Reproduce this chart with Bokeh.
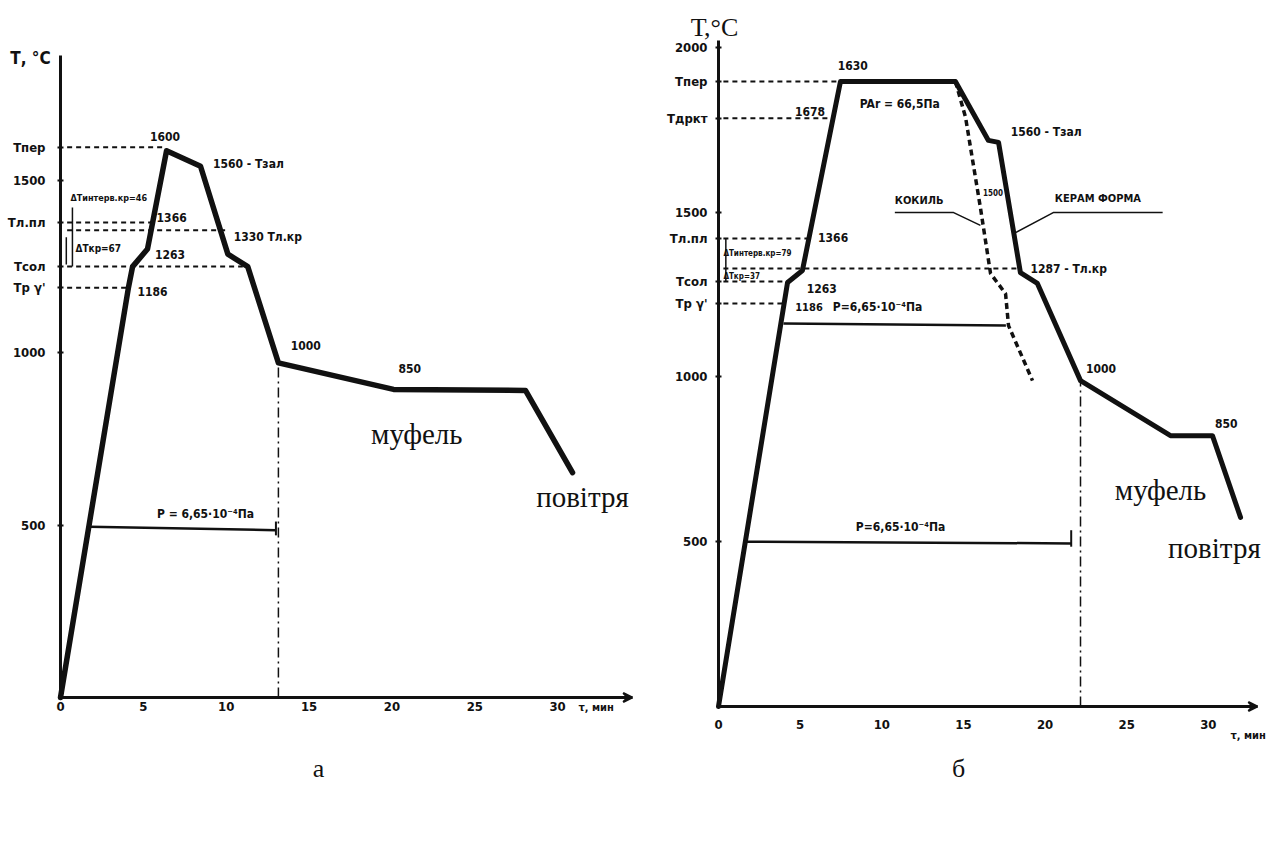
from bokeh.plotting import figure
from bokeh.layouts import row
from bokeh.models import Label, FixedTicker, Arrow, VeeHead
from bokeh.embed import file_html
from bokeh.resources import INLINE

NARROW = "DejaVu Sans Condensed, Liberation Sans, sans-serif"
SERIF = "Liberation Serif"
INK = "#111111"

# ---------------- panel а data ----------------
a_time = [0, 4.1, 4.35, 5.25, 6.4, 8.45, 10.1, 11.3, 13.15, 20.1, 28.06, 30.9]
a_temp = [0, 1188, 1249, 1300, 1585, 1540, 1285, 1249, 970, 893, 890, 652]
a_x_ticks = [0, 5, 10, 15, 20, 25, 30]
a_y_ticks = [500, 1000, 1500, 1595, 1377, 1249, 1188]
a_y_names = ["500", "1000", "1500", "Тпер", "Тл.пл", "Тсол", "Тр γ'"]
# dashed reference levels: (x_end, level)
a_lvl_end = [6.3, 5.55, 9.96, 11.0, 4.1]
a_lvl_val = [1595, 1377, 1354, 1249, 1188]
a_p_time = [1.75, 13.0]
a_p_temp = [495, 485]
a_cut_time = 13.15
a_cut_temp = 970

# ---------------- panel б data ----------------
b_time = [0, 4.23, 5.14, 7.47, 14.51, 16.53, 17.15, 18.49, 19.53, 22.17, 27.68, 30.25, 31.97]
b_temp = [0, 1287, 1323, 1897, 1897, 1718, 1712, 1317, 1284, 989, 822, 822, 574]
b_cast_time = [14.51, 15.13, 16.04, 16.66, 17.58, 17.76, 19.23]
b_cast_temp = [1897, 1788, 1514, 1314, 1253, 1156, 989]
b_x_ticks = [0, 5, 10, 15, 20, 25, 30]
b_y_ticks = [500, 1000, 1500, 2000, 1897, 1785, 1420, 1290, 1223]
b_y_names = ["500", "1000", "1500", "2000", "Тпер", "Тдркт", "Тл.пл", "Тсол", "Тр γ'"]
b_lvl_end = [7.3, 7.02, 5.53, 18.45, 4.25, 4.02]
b_lvl_val = [1897, 1785, 1420, 1329, 1290, 1223]
b_p1_time = [3.98, 17.6]
b_p1_temp = [1162, 1156]
b_p2_time = [1.65, 21.6]
b_p2_temp = [500, 495]
b_cut_time = 22.17
b_cut_temp = 989


def base_fig(width, height, xr, yr, xb, yb, x_std, y_std):
    p = figure(width=width, height=height, x_range=xr, y_range=yr,
               output_backend="svg", toolbar_location=None,
               min_border_left=0, min_border_right=0,
               min_border_top=0, min_border_bottom=0)
    p.grid.visible = False
    p.outline_line_color = None
    p.background_fill_color = "white"
    p.border_fill_color = "white"
    p.xaxis.fixed_location = 0
    p.yaxis.fixed_location = 0
    p.xaxis.bounds = xb
    p.yaxis.bounds = yb
    for ax in (p.xaxis, p.yaxis):
        ax.axis_line_width = 3
        ax.axis_line_color = INK
        ax.major_tick_line_color = INK
        ax.major_tick_line_width = 2
        ax.minor_tick_line_color = None
        ax.major_label_text_font = NARROW
        ax.major_label_text_font_style = "bold"
        ax.major_label_text_font_size = "13px"
        ax.major_label_text_color = INK
    p.xaxis.major_tick_in = 0
    p.xaxis.major_tick_out = 0
    p.yaxis.major_tick_in = 3
    p.yaxis.major_tick_out = 3
    p.xaxis.major_label_standoff = x_std
    p.yaxis.major_label_standoff = y_std
    return p


def lab(p, x, y, text, size="12px", font=NARROW, style="bold", align="left", base="middle"):
    p.add_layout(Label(x=x, y=y, text=text, text_font=font, text_font_size=size,
                       text_font_style=style, text_align=align, text_baseline=base,
                       text_color=INK))


# ================= panel а =================
pa = base_fig(636, 830, (-3.621, 34.76), (-385.5, 2020.3), (0, 34.5), (0, 1860), 4, 12)
pa.xaxis.ticker = FixedTicker(ticks=a_x_ticks)
pa.yaxis.ticker = FixedTicker(ticks=a_y_ticks)
pa.yaxis.major_label_overrides = {t: n for t, n in zip(a_y_ticks, a_y_names)}

for xe, lv in zip(a_lvl_end, a_lvl_val):
    pa.line([0.4, xe], [lv, lv], line_width=2, line_dash="5 4", color=INK)
pa.line([0.72, 0.72], [1420, 1249], line_width=1.5, color=INK)
pa.line([0.35, 0.35], [1334, 1255], line_width=1.5, color=INK)
pa.line(a_p_time, a_p_temp, line_width=2.5, color=INK)
pa.line([a_p_time[1], a_p_time[1]], [a_p_temp[1] - 15, a_p_temp[1] + 25], line_width=2, color=INK)
pa.line([a_cut_time, a_cut_time], [0, a_cut_temp], line_width=1.5, line_dash="10 4 2 4", color=INK)
pa.line(a_time, a_temp, line_width=5.5, color=INK, line_join="round", line_cap="round")
pa.add_layout(Arrow(end=VeeHead(size=9, line_width=2, line_color=INK, fill_color=INK),
                    x_start=33.5, y_start=0, x_end=34.5, y_end=0, line_width=0, line_alpha=0))

lab(pa, -1.81, 1855, "Т, °С", size="17px", align="center")
lab(pa, 0.6, 1449, "ΔТинтерв.кр=46", size="9px")
lab(pa, 0.9, 1301, "ΔТкр=67", size="10px")
lab(pa, 5.4, 1625, "1600")
lab(pa, 9.2, 1545, "1560 - Тзал")
lab(pa, 5.8, 1390, "1366")
lab(pa, 10.45, 1335, "1330  Тл.кр")
lab(pa, 5.7, 1285, "1263")
lab(pa, 4.65, 1178, "1186")
lab(pa, 13.9, 1020, "1000")
lab(pa, 20.4, 955, "850")
lab(pa, 8.75, 532, "P = 6,65·10⁻⁴Па", align="center")
lab(pa, 21.5, 765, "муфель", size="29px", font=SERIF, style="normal", align="center")
lab(pa, 31.5, 580, "повітря", size="29px", font=SERIF, style="normal", align="center")
lab(pa, 31.26, -29, "τ, мин", size="11px")
lab(pa, 15.57, -206, "а", size="26px", font=SERIF, style="normal", align="center")

# ================= panel б =================
pb = base_fig(630, 830, (-5.021, 33.56), (-376.3, 2142.6), (0, 33.0), (0, 2020), 13, 8)
pb.xaxis.ticker = FixedTicker(ticks=b_x_ticks)
pb.yaxis.ticker = FixedTicker(ticks=b_y_ticks)
pb.yaxis.major_label_overrides = {t: n for t, n in zip(b_y_ticks, b_y_names)}

for xe, lv in zip(b_lvl_end, b_lvl_val):
    pb.line([0.3, xe], [lv, lv], line_width=2, line_dash="5 4", color=INK)
pb.line([0.45, 0.45], [1420, 1290], line_width=1.5, color=INK)
pb.line(b_p1_time, b_p1_temp, line_width=2.5, color=INK)
pb.line(b_p2_time, b_p2_temp, line_width=2.5, color=INK)
pb.line([b_p2_time[1], b_p2_time[1]], [b_p2_temp[1] - 10, b_p2_temp[1] + 40], line_width=2, color=INK)
pb.line([b_cut_time, b_cut_time], [0, b_cut_temp], line_width=1.5, line_dash="10 4 2 4", color=INK)
pb.line(b_cast_time, b_cast_temp, line_width=3.5, line_dash="6 4", color=INK)
pb.line(b_time, b_temp, line_width=5, color=INK, line_join="round", line_cap="round")
# leaders to the labels
pb.line([10.8, 14.4, 16.04], [1499, 1499, 1460], line_width=1.5, color=INK)
pb.line([27.2, 20.5, 18.19], [1499, 1499, 1438], line_width=1.5, color=INK)
pb.add_layout(Arrow(end=VeeHead(size=9, line_width=2, line_color=INK, fill_color=INK),
                    x_start=32.0, y_start=0, x_end=33.0, y_end=0, line_width=0, line_alpha=0))

lab(pb, -0.24, 2061, "Т,°С", size="26px", font=SERIF, style="normal", align="center")
lab(pb, 7.3, 1945, "1630")
lab(pb, 5.6, 1806, "1678", align="center")
lab(pb, 11.1, 1827, "PAr = 66,5Па", align="center")
lab(pb, 17.9, 1745, "1560 - Тзал")
lab(pb, 16.2, 1560, "1500", size="8px")
lab(pb, 10.8, 1536, "КОКИЛЬ", size="11px")
lab(pb, 20.6, 1542, "КЕРАМ  ФОРМА", size="11px")
lab(pb, 19.1, 1329, "1287 - Тл.кр")
lab(pb, 6.1, 1423, "1366")
lab(pb, 0.3, 1375, "ΔТинтерв.кр=79", size="8px")
lab(pb, 0.3, 1306, "ΔТкр=37", size="8px")
lab(pb, 5.4, 1270, "1263")
lab(pb, 4.7, 1212, "1186", size="11px")
lab(pb, 7.0, 1212, "P=6,65·10⁻⁴Па")
lab(pb, 22.5, 1026, "1000")
lab(pb, 30.4, 859, "850")
lab(pb, 11.15, 545, "P=6,65·10⁻⁴Па", align="center")
lab(pb, 27.07, 656, "муфель", size="29px", font=SERIF, style="normal", align="center")
lab(pb, 30.37, 480, "повітря", size="29px", font=SERIF, style="normal", align="center")
lab(pb, 31.35, -88, "τ, мин", size="11px")
lab(pb, 14.7, -188, "б", size="26px", font=SERIF, style="normal", align="center")

layout = row(pa, pb)
open("out.html", "w").write(file_html(layout, INLINE))
